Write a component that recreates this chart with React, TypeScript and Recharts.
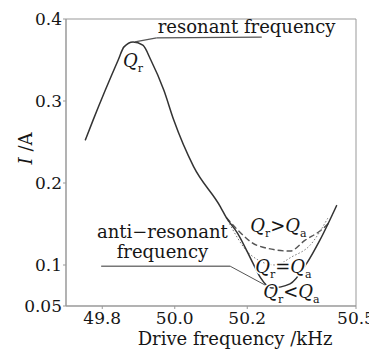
import {
  LineChart,
  Line,
  XAxis,
  YAxis,
  ReferenceArea,
  ReferenceLine,
  ReferenceDot,
} from 'recharts'

const FONT = '"DejaVu Serif", "Liberation Serif", serif'

// drive frequency (kHz) / current (A)
const mainFreq = [49.753, 49.775, 49.844, 49.86, 49.885, 49.912, 49.934, 49.97, 49.997, 50.052, 50.126, 50.142, 50.173, 50.216, 50.236, 50.268, 50.318, 50.364, 50.4, 50.447]
const mainCurrent = [0.252, 0.277, 0.35, 0.366, 0.372, 0.368, 0.35, 0.313, 0.277, 0.22, 0.171, 0.158, 0.139, 0.102, 0.085, 0.072, 0.077, 0.102, 0.13, 0.173]

const greaterFreq = [50.142, 50.173, 50.227, 50.318, 50.359, 50.405, 50.427]
const greaterCurrent = [0.158, 0.143, 0.124, 0.117, 0.13, 0.143, 0.152]

const equalFreq = [50.142, 50.208, 50.277, 50.323, 50.373, 50.422]
const equalCurrent = [0.158, 0.113, 0.1, 0.11, 0.124, 0.157]

const xTicks = [49.8, 50.0, 50.2, 50.5]
const yTicks = [0.05, 0.1, 0.2, 0.3, 0.4]

const toPoints = (fs: number[], is: number[]) => fs.map((f, k) => ({ f, i: is[k] }))

const mainData = toPoints(mainFreq, mainCurrent)
const greaterData = toPoints(greaterFreq, greaterCurrent)
const equalData = toPoints(equalFreq, equalCurrent)

const INK = '#161616'
const halo = { stroke: '#fff', strokeWidth: 3, paintOrder: 'stroke' as const }

// Q_r ? Q_a style label, anchored at its left baseline
const QText = ({ viewBox, op }: any) => {
  if (!viewBox) return null
  const x = viewBox.x + viewBox.width / 2
  const y = viewBox.y + viewBox.height / 2
  return (
    <text x={x} y={y} fontFamily={FONT} fontSize={18} fill={INK} {...halo}>
      <tspan fontStyle="italic">Q</tspan>
      <tspan fontSize={11} dy={5}>r</tspan>
      {op && <tspan fontSize={18} dy={-5}>{op}</tspan>}
      {op && <tspan fontStyle="italic">Q</tspan>}
      {op && <tspan fontSize={11} dy={5}>a</tspan>}
    </text>
  )
}

const PlainText = ({ viewBox, value, anchor }: any) => {
  if (!viewBox) return null
  return (
    <text
      x={viewBox.x + viewBox.width / 2}
      y={viewBox.y + viewBox.height / 2}
      textAnchor={anchor}
      fontFamily={FONT}
      fontSize={18}
      fill={INK}
    >
      {value}
    </text>
  )
}

const YLabel = ({ viewBox }: any) => (
  <text
    x={viewBox.x + 17}
    y={viewBox.y + viewBox.height / 2 - 14}
    transform={`rotate(-90 ${viewBox.x + 17} ${viewBox.y + viewBox.height / 2 - 14})`}
    textAnchor="middle"
    dominantBaseline="central"
    fontFamily={FONT}
    fontSize={18}
    fill={INK}
  >
    <tspan fontStyle="italic">I</tspan> /A
  </text>
)

const XLabel = ({ viewBox }: any) => (
  <text
    x={viewBox.x + viewBox.width / 2 + 24}
    y={viewBox.y + 39}
    textAnchor="middle"
    fontFamily={FONT}
    fontSize={18}
    fill={INK}
  >
    Drive frequency /kHz
  </text>
)

const tickStyle = { fontFamily: FONT, fontSize: 17, fill: INK }

export default function App() {
  return (
    <LineChart
      width={369}
      height={341}
      margin={{ top: 11, right: 21, bottom: 0, left: 0 }}
    >
      <XAxis
        dataKey="f"
        type="number"
        domain={[49.7, 50.5]}
        ticks={xTicks}
        allowDataOverflow
        tickFormatter={(v: number) => v.toFixed(1)}
        tick={tickStyle}
        tickSize={3}
        tickMargin={3}
        height={43}
        axisLine={{ stroke: '#999' }}
        tickLine={{ stroke: '#999' }}
        label={<XLabel />}
      />
      <YAxis
        dataKey="i"
        type="number"
        domain={[0.05, 0.4]}
        ticks={yTicks}
        allowDataOverflow
        tickFormatter={(v: number) => (v === 0.05 ? '0.05' : v.toFixed(1))}
        tick={tickStyle}
        tickSize={3}
        tickMargin={1}
        width={58}
        axisLine={{ stroke: '#999' }}
        tickLine={{ stroke: '#999' }}
        label={<YLabel />}
      />
      <ReferenceArea x1={49.7} x2={50.5} y1={0.05} y2={0.4} fill="none" stroke="#999" strokeWidth={1} />

      <Line data={greaterData} dataKey="i" type="monotone" stroke="#555" strokeWidth={1.4} strokeDasharray="6 3" dot={false} isAnimationActive={false} />
      <Line data={equalData} dataKey="i" type="monotone" stroke="#777" strokeWidth={1} strokeDasharray="1.5 2" dot={false} isAnimationActive={false} />
      <Line data={mainData} dataKey="i" type="monotone" stroke="#333" strokeWidth={1.5} dot={false} isAnimationActive={false} />

      {/* leader lines */}
      <ReferenceLine segment={[{ x: 49.89, y: 0.372 }, { x: 49.95, y: 0.377 }]} stroke="#555" strokeWidth={1.2} />
      <ReferenceLine segment={[{ x: 49.95, y: 0.377 }, { x: 50.24, y: 0.378 }]} stroke="#555" strokeWidth={1.2} />
      <ReferenceLine segment={[{ x: 49.797, y: 0.0985 }, { x: 50.153, y: 0.0985 }]} stroke="#777" strokeWidth={1.5} />
      <ReferenceLine segment={[{ x: 50.153, y: 0.0985 }, { x: 50.249, y: 0.0756 }]} stroke="#555" strokeWidth={1} />

      {/* text annotations */}
      <ReferenceDot x={49.953} y={0.383} r={0} fill="none" stroke="none" label={<PlainText value="resonant frequency" anchor="start" />} />
      <ReferenceDot x={49.857} y={0.341} r={0} fill="none" stroke="none" label={<QText />} />
      <ReferenceDot x={49.966} y={0.133} r={0} fill="none" stroke="none" label={<PlainText value="anti−resonant" anchor="middle" />} />
      <ReferenceDot x={49.966} y={0.109} r={0} fill="none" stroke="none" label={<PlainText value="frequency" anchor="middle" />} />
      <ReferenceDot x={50.208} y={0.14} r={0} fill="none" stroke="none" label={<QText op=">" />} />
      <ReferenceDot x={50.222} y={0.09} r={0} fill="none" stroke="none" label={<QText op="=" />} />
      <ReferenceDot x={50.244} y={0.06} r={0} fill="none" stroke="none" label={<QText op="<" />} />
    </LineChart>
  )
}
